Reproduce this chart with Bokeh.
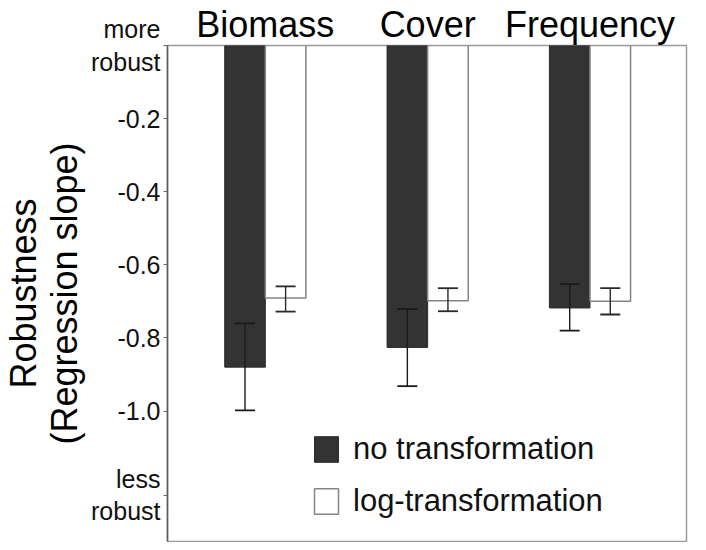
import numpy as np
from bokeh.plotting import figure
from bokeh.models import (Range1d, FixedTicker, Whisker, ColumnDataSource,
                          Legend, LegendItem, TeeHead, LinearAxis, CustomJSTickFormatter)
from bokeh.embed import file_html
from bokeh.resources import INLINE

# ---- data ----
categories = ["Biomass", "Cover", "Frequency"]
series_names = ["no transformation", "log-transformation"]
no_trans = [-0.880, -0.826, -0.718]
no_trans_upper = [-0.760, -0.721, -0.653]
no_trans_lower = [-0.998, -0.932, -0.780]
log_trans = [-0.691, -0.698, -0.700]
log_trans_upper = [-0.659, -0.664, -0.664]
log_trans_lower = [-0.728, -0.727, -0.736]
y_ticks = [-1.0, -0.8, -0.6, -0.4, -0.2]
top_note = "more\nrobust"
bottom_note = "less\nrobust"
top_note_y = 0.0
bottom_note_y = -1.23

FONT = "Liberation Sans"
pos = np.arange(1, len(categories) + 1, dtype=float)
dodge = 0.125
bar_w = 0.25
zeros = [0.0] * len(categories)

p = figure(width=698, height=542, output_backend="svg", toolbar_location=None,
           x_range=Range1d(0.3975, 3.5945), y_range=Range1d(-1.357, 0.0),
           x_axis_type=None,
           min_border_left=166, min_border_right=12, min_border_top=44,
           min_border_bottom=1)
p.grid.visible = False
p.outline_line_color = "#9a9a9a"
p.outline_line_width = 1.5
p.background_fill_color = "white"
p.border_fill_color = "white"

src_no = ColumnDataSource(dict(x=pos - dodge, top=zeros, bottom=no_trans,
                               upper=no_trans_upper, lower=no_trans_lower))
src_log = ColumnDataSource(dict(x=pos + dodge, top=zeros, bottom=log_trans,
                                upper=log_trans_upper, lower=log_trans_lower))

r_no = p.vbar(x="x", top="top", bottom="bottom", width=bar_w, source=src_no,
              fill_color="#333333", line_color="#2a2a2a", line_width=1)
r_log = p.vbar(x="x", top="top", bottom="bottom", width=bar_w, source=src_log,
               fill_color="white", line_color="#858585", line_width=1.5)

for src, col in ((src_no, "#1a1a1a"), (src_log, "#2a2a2a")):
    w = Whisker(source=src, base="x", upper="upper", lower="lower",
                dimension="height", line_color=col, line_width=1.4,
                level="overlay",
                upper_head=TeeHead(size=20, line_color=col, line_width=1.8),
                lower_head=TeeHead(size=20, line_color=col, line_width=1.8))
    p.add_layout(w)

# y axis: numeric ticks plus the two robustness notes
ax = p.yaxis[0]
ax.ticker = FixedTicker(ticks=y_ticks + [top_note_y, bottom_note_y])
ax.formatter = CustomJSTickFormatter(
    args=dict(top_y=top_note_y, bot_y=bottom_note_y,
              top_txt=top_note, bot_txt=bottom_note),
    code="""
    if (Math.abs(tick - top_y) < 1e-9) return top_txt;
    if (Math.abs(tick - bot_y) < 1e-9) return bot_txt;
    return tick.toFixed(1);
""")
ax.major_label_text_font = FONT
ax.major_label_text_font_size = "25px"
ax.major_label_text_color = "#111111"
ax.major_label_text_line_height = 1.15
ax.major_label_standoff = 3
ax.major_tick_out = 4
ax.major_tick_in = 0
ax.minor_tick_line_color = None
ax.major_tick_line_color = "#666666"
ax.axis_line_color = "#5a5a5a"
ax.axis_line_width = 1.5
ax.axis_label = "Robustness\n(Regression slope)"
ax.axis_label_text_font = FONT
ax.axis_label_text_font_size = "36px"
ax.axis_label_text_font_style = "normal"
ax.axis_label_text_color = "#000000"
ax.axis_label_text_line_height = 1.0
ax.axis_label_standoff = 3

# category names above the frame
top_ax = LinearAxis(ticker=FixedTicker(ticks=list(pos)),
                    major_label_overrides={float(x): c for x, c in zip(pos, categories)},
                    axis_line_color=None, major_tick_line_color=None,
                    minor_tick_line_color=None, major_tick_out=0, major_tick_in=0,
                    major_label_standoff=1,
                    major_label_text_font=FONT, major_label_text_font_size="36px",
                    major_label_text_color="#000000")
p.add_layout(top_ax, "above")

legend = Legend(items=[LegendItem(label=series_names[0], renderers=[r_no]),
                       LegendItem(label=series_names[1], renderers=[r_log])],
                location=(144, 22), orientation="vertical",
                glyph_width=30, glyph_height=32, label_height=32,
                label_standoff=12, spacing=16, padding=0, margin=0,
                border_line_color=None, background_fill_alpha=0,
                label_text_font=FONT, label_text_font_size="31px",
                label_text_color="#111111")
p.add_layout(legend)

open("out.html", "w").write(file_html(p, INLINE))
